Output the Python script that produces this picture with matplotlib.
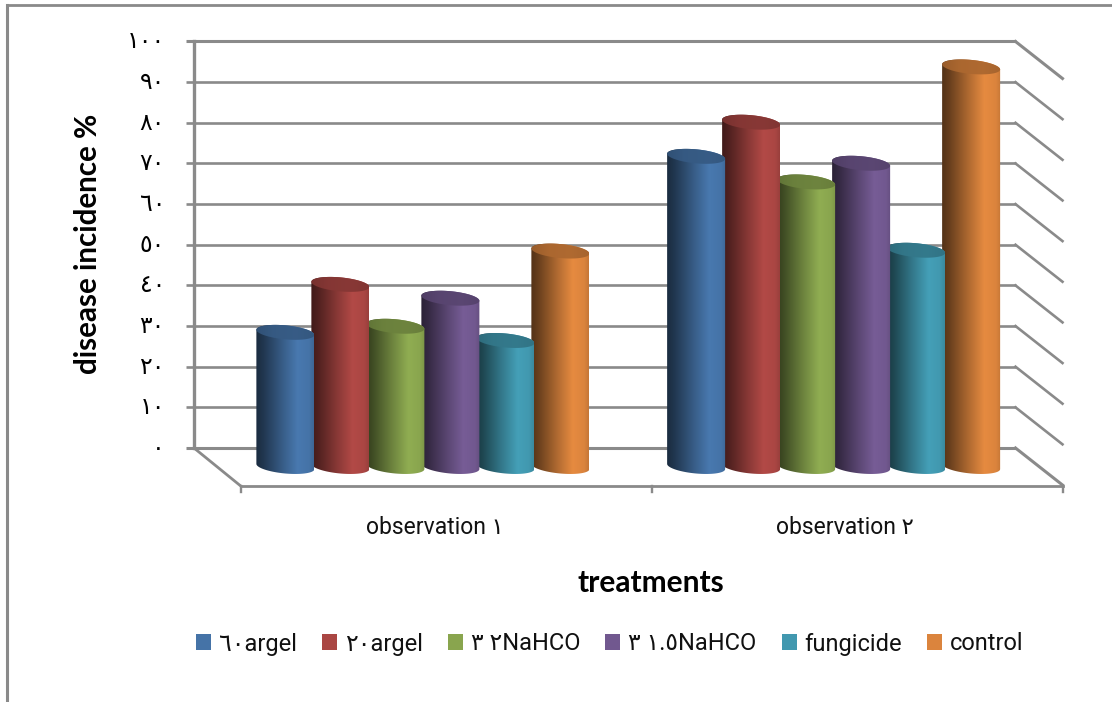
import numpy as np
import matplotlib
matplotlib.use("Agg")
import matplotlib.pyplot as plt
from matplotlib.colors import to_rgb
from matplotlib.patches import PathPatch, Patch
from matplotlib.path import Path

categories = ["observation ١", "observation ٢"]
series_names = ["٦٠argel", "٢٠argel", "٣ ٢NaHCO", "٣ ١.٥NaHCO", "fungicide", "control"]
series_colors = ["#4573A7", "#AA4643", "#89A54E", "#71588F", "#4198AF", "#DB843D"]
# values as read at the middle of the 3d depth
obs1 = [33, 44.8, 34.5, 41.4, 31, 53]
obs2 = [76.3, 84.7, 70, 74.6, 53.2, 98.3]
y_ticks = [0, 10, 20, 30, 40, 50, 60, 70, 80, 90, 100]
y_tick_labels = ["٠", "١٠", "٢٠", "٣٠", "٤٠", "٥٠", "٦٠", "٧٠", "٨٠", "٩٠", "١٠٠"]

W, H = 1112, 702
GREY = "#8A8A8A"
LABEL_FONT = ["Roboto", "DejaVu Sans"]
plt.rcParams["font.family"] = ["Lato", "DejaVu Sans"]

fig = plt.figure(figsize=(W / 100, H / 100), dpi=100)
ax = fig.add_axes([0, 0, 1, 1])
ax.axis("off")

# pixel layout of the back wall: x 0..2 and y 0..100
px_x0, px_x2 = 194.0, 1015.5
px_y0, px_y100 = 448.0, 41.5
px_per_x = (px_x2 - px_x0) / 2
px_per_y = (px_y0 - px_y100) / 100
depth_x = 47 / px_per_x
depth_y = 37 / px_per_y

bar_w = 58 / px_per_x
bar_step = 55 / px_per_x
ell_h = 7 / px_per_y
ell_tilt = 2.6 / px_per_y


def shade(color, stops):
    rgb = np.array(to_rgb(color))
    xs = np.linspace(0, 1, 200)
    fac = np.interp(xs, [s[0] for s in stops], [s[1] for s in stops])
    return np.clip(fac[:, None] * rgb, 0, 1)[None, :, :]


def draw_cylinder(xc, bottom, top, color, z):
    r = bar_w / 2
    t = np.linspace(0, np.pi, 60)
    # near side arc of the base and far side outline of the top
    bx = xc - r * np.cos(t)
    by = bottom + ell_tilt * np.cos(t) - ell_h * np.sin(t)
    tx = xc + r * np.cos(t)
    ty = top - ell_tilt * np.cos(t) + ell_h * np.sin(t)
    body = Path(np.column_stack([np.r_[bx, tx], np.r_[by, ty]]))
    ext = [xc - r, xc + r, bottom - 2 * ell_h, top + 2 * ell_h]
    im = ax.imshow(shade(color, [(0, .38), (.12, .47), (.45, .8), (.72, 1.05), (.92, 1.0), (1, .9)]),
                   extent=ext, aspect="auto", zorder=z, interpolation="bilinear")
    im.set_clip_path(PathPatch(body, transform=ax.transData))
    # top cap
    t2 = np.linspace(0, 2 * np.pi, 120)
    cap = Path(np.column_stack([xc + r * np.cos(t2),
                                top - ell_tilt * np.cos(t2) + ell_h * np.sin(t2)]))
    im2 = ax.imshow(shade(color, [(0, .7), (.3, .78), (.7, .8), (1, .76)]),
                    extent=ext, aspect="auto", zorder=z + 0.1, interpolation="bilinear")
    im2.set_clip_path(PathPatch(cap, transform=ax.transData))


# back wall, grid lines and their run along the right side wall
for v in y_ticks:
    lw = 2.2 if v in (0, 100) else 1.9
    ax.plot([-8 / px_per_x, 2], [v, v], color=GREY, lw=lw, zorder=1, solid_capstyle="butt")
    ax.plot([2, 2 + depth_x], [v, v - depth_y], color=GREY, lw=lw, zorder=1)
ax.plot([0, 0], [0, 100], color=GREY, lw=2.4, zorder=1)

# floor
floor_y = -depth_y - 0.3
ax.plot([0, depth_x], [0, floor_y], color=GREY, lw=2.0, zorder=1)
ax.plot([depth_x, 2 + depth_x], [floor_y, floor_y], color=GREY, lw=2.0, zorder=1)
for x in [0, 1, 2]:
    ax.plot([x + depth_x] * 2, [floor_y, floor_y - 6 / px_per_y], color=GREY, lw=1.7, zorder=1)

# cylinders sit half way into the depth, first series painted on top
for i, values in enumerate([obs1, obs2]):
    for j, v in enumerate(values):
        xc = i + 0.5 + depth_x / 2 + (j - 2.5) * bar_step
        draw_cylinder(xc, -depth_y / 2, v - depth_y / 2, series_colors[j], 10 - j)

ax.set_xlim(-px_x0 / px_per_x, (W - px_x0) / px_per_x)
ax.set_ylim((px_y0 - H) / px_per_y, px_y0 / px_per_y)

# outer frame, only top and left are in the crop
fig.add_artist(plt.Line2D([7 / W, 1], [1 - 5 / H, 1 - 5 / H], color=GREY, lw=2.0))
fig.add_artist(plt.Line2D([7 / W, 7 / W], [1 - 5 / H, 0], color=GREY, lw=2.2))

for v, lab in zip(y_ticks, y_tick_labels):
    ax.text(-29 / px_per_x, v, lab, ha="right", va="center", fontsize=17, color="black",
            family=["DejaVu Sans"])

for i, lab in enumerate(categories):
    ax.text(i + 0.5 + depth_x / 2 + 11.5 / px_per_x, -80 / px_per_y, lab, ha="center", va="center",
            fontsize=16.5, color="#111111", family=LABEL_FONT)

fig.text(88 / W, 1 - 244 / H, "disease incidence %", rotation=90, ha="center", va="center",
         fontsize=21.3, fontweight="bold", color="black")
fig.text(651 / W, 1 - 583 / H, "treatments", ha="center", va="center",
         fontsize=21.5, fontweight="bold", color="black")

handles = [Patch(facecolor=c, edgecolor="none") for c in series_colors]
fig.legend(handles, series_names, ncol=6, frameon=False, loc="center",
           bbox_to_anchor=(610 / W, 1 - 644 / H), handlelength=0.64, handleheight=0.64,
           handletextpad=0.34, columnspacing=1.05, labelcolor="#111111",
           prop={"family": LABEL_FONT, "size": 17})

fig.savefig("out.png", dpi=100)
